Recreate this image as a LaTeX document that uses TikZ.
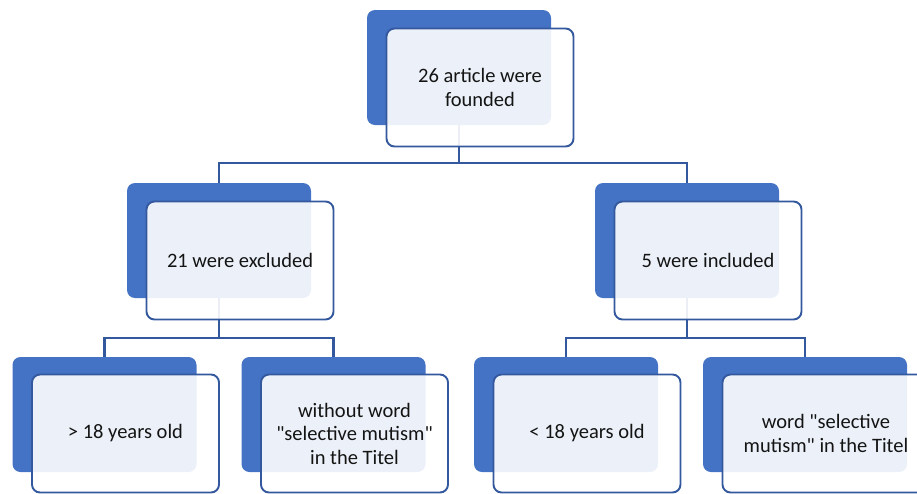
\documentclass[tikz,border=0pt]{standalone}
\usepackage{fontspec}
\setmainfont{Carlito}[Ligatures=TeXOff]
\usepackage{tikz}
\usetikzlibrary{calc}

\definecolor{boxblue}{HTML}{4472C4}
\definecolor{lineblue}{HTML}{34589E}

\begin{document}
\begin{tikzpicture}[x=1pt,y=-1pt]

\tikzstyle{back}=[draw=none,fill=boxblue,rounded corners=8pt,minimum width=184pt,minimum height=115pt,inner sep=0pt,outer sep=0pt]

% FRONT CARD
\tikzstyle{front}=[draw=lineblue,line width=1.9pt,fill=white,fill opacity=0.9,text opacity=1,rounded corners=8pt,minimum width=187pt,minimum height=118pt,inner sep=0pt,align=center,font=\fontsize{20.5}{23.5}\selectfont,text=black!92]

\tikzstyle{link}=[draw=lineblue,line width=2.6pt]

\useasboundingbox (0,0) rectangle (917,493);

% BACK CARDS
\node (foundb) [back] at (459,67.5) {};
\node (exclb) [back] at (219,240.5) {};
\node (inclb) [back] at (687,240.5) {};
\node (oldb) [back] at (104.5,414.5) {};
\node (titleb) [back] at (333.5,414.5) {};
\node (youngb) [back] at (566,414.5) {};
\node (wordb) [back,minimum width=204pt] at (805,414.5) {};

% LINKS
\draw [link] (foundb.south) -- ++(0,38) -| (exclb.north);
\draw [link] (foundb.south) -- ++(0,38) -| (inclb.north);
\draw [link] (exclb.south) -- ++(0,40) -| (oldb.north);
\draw [link] (exclb.south) -- ++(0,40) -| (titleb.north);
\draw [link] (inclb.south) -- ++(0,40) -| (youngb.north);
\draw [link] (inclb.south) -- ++(0,40) -| (wordb.north);

% FRONT CARDS
\node (found) [front,xshift=21pt,yshift=-20pt] at (foundb) {26 article were\\founded};
\node (excl) [front,xshift=21pt,yshift=-20pt] at (exclb) {21 were excluded};
\node (incl) [front,xshift=21pt,yshift=-20pt] at (inclb) {5 were included};
\node (old) [front,xshift=21pt,yshift=-19pt] at (oldb) {> 18 years old};
\node (title) [front,xshift=21pt,yshift=-19pt] at (titleb) {without word\\"selective mutism"\\in the Titel};
\node (young) [front,xshift=21pt,yshift=-19pt] at (youngb) {< 18 years old};
\node (word) [front,minimum width=207pt,xshift=21pt,yshift=-19pt] at (wordb) {word "selective\\mutism" in the Titel};

\end{tikzpicture}
\end{document}
